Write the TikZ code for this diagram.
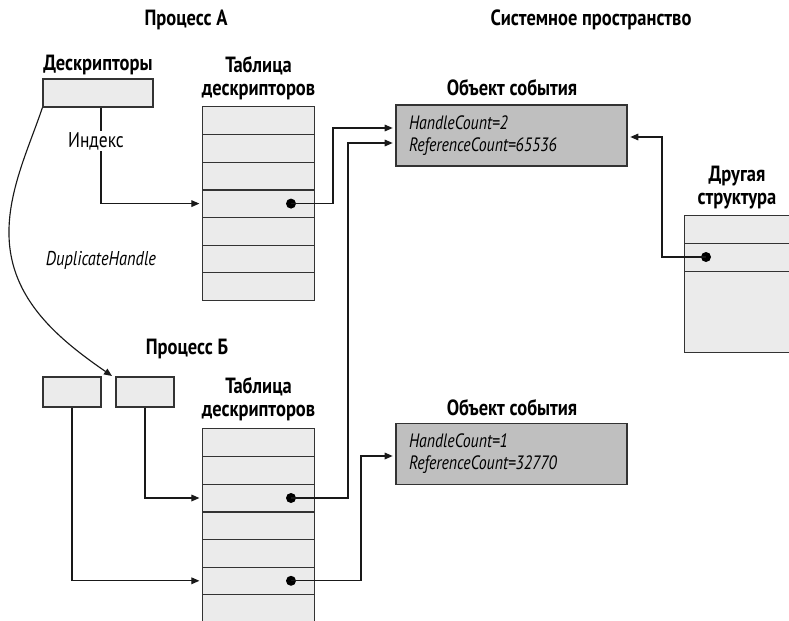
\documentclass[tikz,border=0pt]{standalone}
\usepackage{fontspec}
\setmainfont{PT Sans}[FakeStretch=0.82]
\newfontfamily\headfont{PT Sans}[FakeStretch=0.84]
\usetikzlibrary{arrows.meta}

\begin{document}
\begin{tikzpicture}[x=0.75pt,y=-0.75pt,
  title/.style={font=\headfont\fontsize{16.5}{17.25}\selectfont\bfseries, align=center, inner sep=0pt, anchor=base},
  plain/.style={font=\fontsize{16}{17}\selectfont, inner sep=1pt, anchor=base},
  cell/.style={fill=black!8, inner sep=0pt, minimum width=83.25pt, minimum height=20.7pt},
  frame/.style={draw=black!80, line width=0.9pt},
  slot/.style={draw=black!80, fill=black!8, line width=0.9pt, inner sep=0pt},
  evobj/.style={draw=black!80, fill=black!25, line width=0.9pt, inner xsep=9.75pt,
                minimum width=173.25pt, minimum height=45.75pt, text width=153.75pt,
                align=left, font=\fontsize{14.5}{16.5}\selectfont\itshape},
  dot/.style={circle, fill=black, inner sep=0pt, minimum size=7.5pt},
  conn/.style={line width=0.85pt, draw=black!90},
  arr/.style={conn, -{Triangle[length=6pt,width=5pt]}, shorten >=2.5pt}
]
\useasboundingbox (0,0) rectangle (789,621);
\clip (0,0) rectangle (789,621);

% headings
\node[title] (hA)  at (186,26) {Процесс А};
\node[title] (hSys) at (591,26) {Системное пространство};

% process A: handle slot and handle table
\node[title] (hDesc) at (98,70) {Дескрипторы};
\node[slot, minimum width=82.5pt, minimum height=21pt] (dsA) at (98,93) {};
\node[title] (hTabA) at (258.5,95) {Таблица\\дескрипторов};
\foreach \i in {1,...,7}
  \node[cell] (ta\i) at (258.5,{107+27.6*(\i-0.5)}) {};
\draw[frame] (ta1.north west) rectangle (ta7.south east);
\foreach \i in {1,...,6}
  \draw[frame] (ta\i.south west) -- (ta\i.south east);
\node[dot] (dA) at (291,{107+27.6*3.5}) {};

% process B: two handle slots and handle table
\node[title] (hB) at (187,354) {Процесс Б};
\node[slot, minimum width=43.5pt, minimum height=22.5pt] (pb1) at (72,392) {};
\node[slot, minimum width=43.5pt, minimum height=22.5pt] (pb2) at (145,392) {};
\node[title] (hTabB) at (258.5,416) {Таблица\\дескрипторов};
\foreach \i in {1,...,7}
  \node[cell] (tb\i) at (258.5,{429+27.6*(\i-0.5)}) {};
\draw[frame] (tb1.north west) rectangle (tb7.south east);
\foreach \i in {1,...,6}
  \draw[frame] (tb\i.south west) -- (tb\i.south east);
\node[dot] (dB3) at (291,{429+27.6*2.5}) {};
\node[dot] (dB6) at (291,{429+27.6*5.5}) {};

% event objects in system space
\node[title] (hEv1) at (512,95) {Объект события};
\node[evobj] (ev1) at (511.5,135.5) {HandleCount=2\\ReferenceCount=65536};
\node[title] (hEv2) at (512,415) {Объект события};
\node[evobj] (ev2) at (511.5,454) {HandleCount=1\\ReferenceCount=32770};

% another kernel structure
\node[title] (hOther) at (737,204) {Другая\\структура};
\node[cell, minimum width=86.25pt, minimum height=20.25pt] (os1) at (742.5,229.5) {};
\node[cell, minimum width=86.25pt, minimum height=21pt]    (os2) at (742.5,257) {};
\node[cell, minimum width=86.25pt, minimum height=60.75pt] (os3) at (742.5,311.5) {};
\draw[frame] (os1.north west) rectangle (os3.south east);
\draw[frame] (os1.south west) -- (os1.south east);
\draw[frame] (os2.south west) -- (os2.south east);
\node[dot] (dOS) at (706,257) {};

% arrow targets on the event objects
\coordinate (ev1inA) at (396,128);
\coordinate (ev1inB) at (396,143);
\coordinate (ev1inR) at (627,137);
\coordinate (ev2in)  at (396,456);
\coordinate (dupEnd) at (112,376);

% index into table A
\draw[arr] ([xshift=2.25pt]dsA.south) |- (ta4.west);
\node[plain, fill=white] (idx) at (96,147) {Индекс};

% DuplicateHandle
\draw[arr, shorten >=0pt] (dsA.south west) .. controls (30,145) and (8,190) .. (9,235)
   .. controls (10,300) and (60,340) .. (dupEnd);
\node[plain, font=\fontsize{15}{17}\selectfont\itshape] (dupLbl) at (101,265) {DuplicateHandle};

% process B handles into table B
\draw[arr] (pb2.south) |- (tb3.west);
\draw[arr] (pb1.south) |- (tb6.west);

% table entries pointing at event objects
\draw[arr] (dA.center) -- ++(42,0) |- (ev1inA);
\draw[arr] (dB3.center) -- ++(57,0) |- (ev1inB);
\draw[arr] (dB6.center) -- ++(70,0) |- (ev2in);
\draw[arr] (dOS.center) -- ++(-44,0) |- (ev1inR);
\end{tikzpicture}
\end{document}
